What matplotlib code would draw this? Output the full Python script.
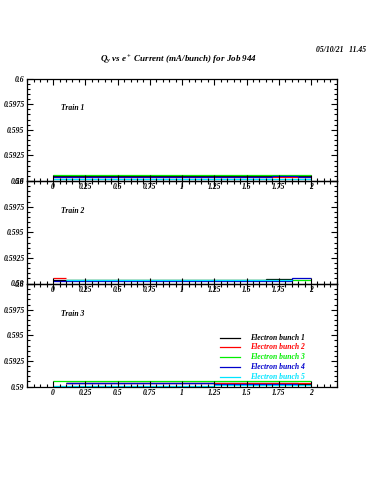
import matplotlib
matplotlib.use("Agg")
import matplotlib.pyplot as plt
from matplotlib.ticker import MultipleLocator, FixedLocator

plt.rcParams['font.family'] = ['Liberation Serif', 'DejaVu Serif']
plt.rcParams['font.weight'] = 'bold'
plt.rcParams['font.style'] = 'italic'
plt.rcParams['mathtext.fontset'] = 'custom'
plt.rcParams['mathtext.it'] = 'Liberation Serif:italic:bold'
plt.rcParams['mathtext.rm'] = 'Liberation Serif:italic:bold'

# step data per train: (bin edges, values) for electron bunches 1..5
bunch_names = ['Electron bunch 1', 'Electron bunch 2', 'Electron bunch 3',
               'Electron bunch 4', 'Electron bunch 5']
bunch_colors = ['black', '#ff0000', '#00ee00', '#0000cc', '#00e5ff']

train1_edges = [[0, 2], [0, 2], [0, 2], [0, 1.7, 1.9, 2], [0, 2]]
train1_vals = [[0.5905], [0.5904], [0.5906], [0.5904, 0.5905, 0.5904], [0.5902]]

train2_edges = [[0, 1.65, 1.85], [0, 0.1], [0.1, 2], [0, 1.85, 2], [0.1, 1.85]]
train2_vals = [[0.5903, 0.5904], [0.5905], [0.5903], [0.5902, 0.5905], [0.5903]]

train3_edges = [[0.1, 1.9, 2], [0.1, 2], [0, 2], [0.1, 1.25, 1.9], [0, 1.25, 2]]
train3_vals = [[0.5903, 0.5902], [0.5903], [0.5905], [0.59035, 0.5902], [0.59005, 0.5901]]

trains = [(train1_edges, train1_vals), (train2_edges, train2_vals),
          (train3_edges, train3_vals)]
train_labels = ['Train 1', 'Train 2', 'Train 3']

y_ticks = [0.59, 0.5925, 0.595, 0.5975, 0.6]
y_ticklabels = ['0.59', '0.5925', '0.595', '0.5975', '0.6']
x_ticks = [0, 0.25, 0.5, 0.75, 1, 1.25, 1.5, 1.75, 2]
x_ticklabels = ['0', '0.25', '0.5', '0.75', '1', '1.25', '1.5', '1.75', '2']

fig = plt.figure(figsize=(3.75, 5), dpi=100)
left, width = 0.073, 0.825
height = 0.205
bottoms = [0.638, 0.433, 0.227]

for i, (edges, vals) in enumerate(trains):
    ax = fig.add_axes([left, bottoms[i], width, height])
    ax.set_facecolor('none')
    for e, v, c in zip(edges, vals, bunch_colors):
        ax.stairs(v, e, color=c, lw=0.9, baseline=None)
    ax.set_xlim(-0.2, 2.2)
    ax.set_ylim(0.59, 0.6)
    ax.yaxis.set_major_locator(FixedLocator(y_ticks))
    ax.set_yticklabels(y_ticklabels)
    ax.yaxis.set_minor_locator(MultipleLocator(0.0005))
    ax.xaxis.set_major_locator(FixedLocator(x_ticks))
    ax.set_xticklabels(x_ticklabels)
    ax.xaxis.set_minor_locator(MultipleLocator(0.05))
    ax.tick_params(which='both', direction='in', top=True, right=True,
                   labelsize=5.5, width=0.8, pad=2)
    ax.tick_params(which='major', length=4)
    ax.tick_params(which='minor', length=2)
    ax.tick_params(axis='x', pad=1.5)
    for sp in ax.spines.values():
        sp.set_linewidth(0.9)
    ax.text(0.11, 0.71, train_labels[i], transform=ax.transAxes, fontsize=5.5,
            ha='left', va='center')

    if i == 2:
        for k, (name, c) in enumerate(zip(bunch_names, bunch_colors)):
            yy = 0.476 - k * 0.095
            ax.plot([0.623, 0.687], [yy, yy], color=c, lw=0.9,
                    transform=ax.transAxes)
            ax.text(0.72, yy, name, color=c, fontsize=5.5, ha='left',
                    va='center', transform=ax.transAxes)

fig.text(0.477, 0.879, r'$Q_y$ vs $e^+$ Current (mA/bunch) for Job 944',
         ha='center', va='center', fontsize=6.5)
fig.text(0.975, 0.9, '05/10/21   11.45', ha='right', va='center', fontsize=5.5)

fig.savefig('out.png', dpi=100)
